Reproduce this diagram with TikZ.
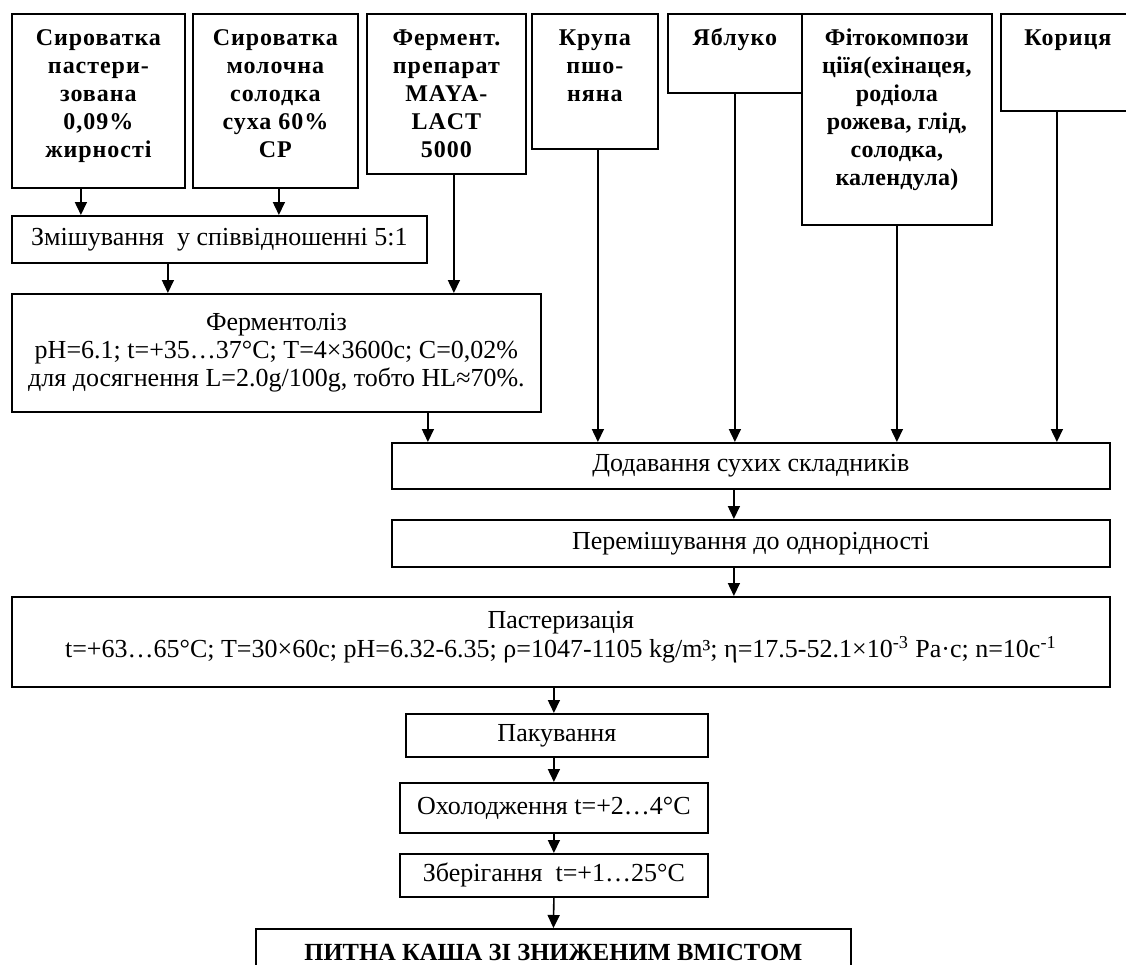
\documentclass[tikz,border=0pt]{standalone}
\usepackage{fontspec}
\setmainfont{Liberation Serif}
\usetikzlibrary{arrows.meta}

% text pressed to the top edge of a frame: width, height, text
\newcommand{\zverhu}[3]{\parbox[c][#2][t]{#1}{\centering\rule{0pt}{16pt}#3}}

\begin{document}
\begin{tikzpicture}[
    x=0.5pt, y=-0.5pt,
    font=\fontsize{13}{14}\selectfont,
    syrovyna/.style={draw, line width=0.9pt, anchor=north west, inner sep=0pt,
                     font=\fontsize{12}{14}\selectfont\addfontfeatures{LetterSpace=4}\bfseries},
    etap/.style={draw, line width=0.9pt, anchor=north west, inner sep=0pt, align=center},
    strilka/.style={-{Triangle[length=6.5pt,width=6pt]}, line width=0.8pt}
]
\useasboundingbox (0,0) rectangle (1126,965);

% syrovyna
\node[syrovyna] (syrpast) at (11,13)   {\zverhu{86.5pt}{87pt}{Сироватка\\пастери-\\зована\\0,09\%\\жирності}};
\node[syrovyna] (syrsuha) at (192,13)  {\zverhu{82.5pt}{87pt}{Сироватка\\молочна\\солодка\\суха 60\%\\СР}};
\node[syrovyna] (ferment) at (366,13)  {\zverhu{79.5pt}{80pt}{Фермент.\\препарат\\MAYA-\\LACT\\5000}};
\node[syrovyna] (krupa)   at (531,13)  {\zverhu{63pt}{67.5pt}{Крупа\\пшо-\\няна}};
\node[syrovyna] (yabluko) at (667,13)  {\zverhu{67pt}{39.5pt}{Яблуко}};
\node[syrovyna] (fito)    at (801,13)  {\zverhu{95pt}{105.5pt}{\addfontfeatures{LetterSpace=1}Фітокомпози\\ціїя(ехінацея,\\родіола\\рожева, глід,\\солодка,\\календула)}};
\node[syrovyna] (korytsia) at (1000,13) {\zverhu{67pt}{48.5pt}{Кориця}};

% etapy
\node[etap, minimum width=207.5pt, minimum height=23.5pt] (zmish) at (11,215) {Змішування\ \ у співвідношенні 5:1};
\node[etap, minimum width=264.5pt, minimum height=59pt] (fermentoliz) at (11,293)
    {Ферментоліз\\pH=6.1; t=+35…37°C; T=4×3600с; C=0,02\%\\для досягнення L=2.0g/100g, тобто HL≈70\%.};
\node[etap, minimum width=359pt, minimum height=23pt] (dodav) at (391,442) {Додавання сухих складників};
\node[etap, minimum width=359pt, minimum height=23.5pt] (peremish) at (391,519) {Перемішування до однорідності};
\node[etap] (pasteur) at (11,596) {\zverhu{549pt}{45pt}{\fontsize{13}{12.5}\selectfont Пастеризація\\
    t=+63…65°C; T=30×60с; pH=6.32-6.35; ρ=1047-1105 kg/m³; η=17.5-52.1×10\textsuperscript{-3} Pa·с; n=10с\textsuperscript{-1}}};
\node[etap, minimum width=151pt, minimum height=21.5pt] (pakuv) at (405,713) {Пакування};
\node[etap, minimum width=154pt, minimum height=25pt] (okhol) at (399,782) {Охолодження t=+2…4°C};
\node[etap, minimum width=154pt, minimum height=21.5pt] (zberig) at (399,853) {Зберігання\ \ t=+1…25°C};
\node[etap] (kasha) at (255,928) {\zverhu{297.5pt}{40pt}{\fontsize{12.3}{14}\selectfont\bfseries ПИТНА КАША ЗІ ЗНИЖЕНИМ ВМІСТОМ}};

% strilky
\draw[strilka] ([xshift=-8.75pt]syrpast.south) -- ([xshift=-8.75pt]syrpast.south |- zmish.north);
\draw[strilka] ([xshift=1.75pt]syrsuha.south) -- ([xshift=1.75pt]syrsuha.south |- zmish.north);
\draw[strilka] ([xshift=-25.75pt]zmish.south) -- ([xshift=-25.75pt]zmish.south |- fermentoliz.north);
\draw[strilka] ([xshift=3.75pt]ferment.south) -- ([xshift=3.75pt]ferment.south |- fermentoliz.north);
\draw[strilka] ([xshift=75.75pt]fermentoliz.south) -- ([xshift=75.75pt]fermentoliz.south |- dodav.north);
\draw[strilka] ([xshift=1.5pt]krupa.south) -- ([xshift=1.5pt]krupa.south |- dodav.north);
\draw[strilka] (yabluko.south) -- (yabluko.south |- dodav.north);
\draw[strilka] (fito.south) -- (fito.south |- dodav.north);
\draw[strilka] ([xshift=-5.5pt]korytsia.south) -- ([xshift=-5.5pt]korytsia.south |- dodav.north);

\draw[strilka] ([xshift=-8.5pt]dodav.south) -- ([xshift=-8.5pt]dodav.south |- peremish.north);
\draw[strilka] ([xshift=-8.5pt]peremish.south) -- ([xshift=-8.5pt]peremish.south |- pasteur.north);
\draw[strilka] (pasteur.south -| okhol.north) -- (pakuv.north -| okhol.north);
\draw[strilka] (pakuv.south -| okhol.north) -- (okhol.north);
\draw[strilka] (okhol.south) -- (zberig.north);
\draw[strilka] (zberig.south) -- (kasha.north);

\end{tikzpicture}
\end{document}
